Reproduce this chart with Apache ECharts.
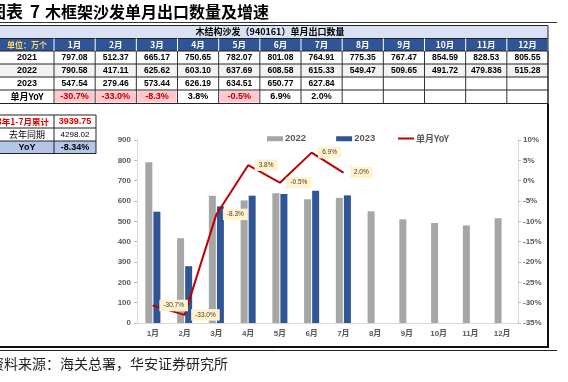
<!DOCTYPE html>
<html lang="zh">
<head>
<meta charset="utf-8">
<title>木框架沙发单月出口数量及增速</title>
</head>
<body style="margin: 0; background: #fff">
<div id="container" style="width: 568px; height: 382px"></div>
<script type="text/javascript" src="https://cdn.jsdelivr.net/npm/echarts@6/dist/echarts.min.js"></script>
<script type="text/javascript">
var months = ['1月', '2月', '3月', '4月', '5月', '6月', '7月', '8月', '9月', '10月', '11月', '12月'];
var v2021 = [797.08, 512.37, 665.17, 750.65, 782.07, 801.08, 764.91, 775.35, 767.47, 854.59, 828.53, 805.55];
var v2022 = [790.58, 417.11, 625.62, 603.10, 637.69, 608.58, 615.33, 549.47, 509.65, 491.72, 479.836, 515.28];
var v2023 = [547.54, 279.46, 573.44, 626.19, 634.51, 650.77, 627.84];
var yoy = [-30.7, -33.0, -8.3, 3.8, -0.5, 6.9, 2.0];
var ytdLabels = ['2023年1-7月累计', '去年同期', 'YoY'];
var ytdValues = ['3939.75', '4298.02', '-8.34%'];

var CN = '"Noto Sans CJK SC", "Liberation Sans", sans-serif';
var NUM = '"Liberation Sans", "Noto Sans CJK SC", sans-serif';

// ---- table drawn with graphic elements ----
var g = [];
var col0 = 54, colW = (548 - 54) / 12;
var rows = [25.5, 38.5, 51, 64, 77, 90, 103.5];

function rect(x, y, w, h, fill) {
    g.push({type: 'rect', shape: {x: x, y: y, width: w, height: h}, style: {fill: fill}, silent: true});
}
function line(x1, y1, x2, y2, color, w) {
    g.push({type: 'line', shape: {x1: x1, y1: y1, x2: x2, y2: y2}, style: {stroke: color, lineWidth: w || 1}, silent: true});
}
function text(str, x, y, opt) {
    opt = opt || {};
    g.push({type: 'text', x: x, y: y, silent: true, style: {
        text: str, fill: opt.color || '#000', font: (opt.weight || 'bold') + ' ' + (opt.size || 8.5) + 'px ' + (opt.family || NUM),
        align: opt.align || 'center', verticalAlign: 'middle'
    }});
}
function colX(i) { return col0 + i * colW; }
// keep at least two decimals, as in the source table
function fmt(v) {
    var s = String(v);
    var d = s.indexOf('.') < 0 ? 0 : s.split('.')[1].length;
    return d < 2 ? v.toFixed(2) : s;
}

// title
text('图表', -11, 12, {size: 17, align: 'left', family: CN});
text('7', 30, 12, {size: 17, align: 'left', family: CN});
text('木框架沙发单月出口数量及增速', 45, 12, {size: 16, align: 'left', family: CN});
line(0, 22.5, 557, 22.5, '#333', 1);

// header rows
rect(0, rows[0], 548, rows[1] - rows[0], '#d9e1f2');
text('木结构沙发（940161）单月出口数量', 270, (rows[0] + rows[1]) / 2, {family: CN, size: 9});
rect(0, rows[1], 548, rows[2] - rows[1], '#2f5597');
text('单位：万个', col0 / 2, (rows[1] + rows[2]) / 2, {family: CN, color: '#ffd966', size: 8});
months.forEach(function (m, i) {
    text(m, colX(i) + colW / 2, (rows[1] + rows[2]) / 2, {family: CN, color: '#fff'});
});
rect(0, rows[3], 548, rows[4] - rows[3], '#f2f2f2');

var bodyRows = [['2021', v2021], ['2022', v2022], ['2023', v2023]];
bodyRows.forEach(function (r, k) {
    var cy = (rows[k + 2] + rows[k + 3]) / 2;
    text(r[0], col0 / 2, cy, {size: 9});
    r[1].forEach(function (v, i) {
        text(fmt(v), colX(i) + colW / 2, cy);
    });
});
var yy = (rows[5] + rows[6]) / 2;
text('单月YoY', col0 / 2, yy, {family: CN, size: 9});
yoy.forEach(function (v, i) {
    var neg = v < 0;
    if (neg) rect(colX(i) + 1, rows[5] + 1, colW - 2, rows[6] - rows[5] - 2, '#ffc7ce');
    text(v.toFixed(1) + '%', colX(i) + colW / 2, yy, {color: neg ? '#c00000' : '#000', size: 9});
});
// grid lines
for (var r = 0; r < rows.length; r++) line(0, rows[r], 548, rows[r], '#222', 1);
for (var c = 0; c <= 12; c++) {
    line(colX(c), rows[1], colX(c), rows[2], '#fff', 1);
    line(colX(c), rows[2], colX(c), rows[6], '#333', 1);
}
line(548, rows[0], 548, rows[6], '#222', 1);

// small ytd table
var sr = [115, 128, 141, 153.5];
rect(0, sr[2], 96, sr[3] - sr[2], '#b4c6e7');
ytdLabels.forEach(function (l, i) {
    var cy = (sr[i] + sr[i + 1]) / 2;
    if (i === 0) {
        text(l, 49, cy, {family: CN, color: '#e00000', align: 'right', size: 8.5});
        text(ytdValues[i], 75, cy, {color: '#e00000', size: 9});
    } else if (i === 1) {
        text(l, 27, cy, {family: CN, weight: 'normal', size: 9});
        text(ytdValues[i], 75, cy, {weight: 'normal', size: 8});
    } else {
        text(l, 27, cy, {size: 9});
        text(ytdValues[i], 75, cy, {size: 9});
    }
});
sr.forEach(function (y) { line(0, y, 96, y, '#222', 1); });
line(54, sr[0], 54, sr[3], '#222', 1);
line(96, sr[0], 96, sr[3], '#222', 1);

// chart frame and footer
line(548, rows[6], 548, 347, '#111', 2);
line(0, 347, 549, 347, '#111', 2);
line(0, 350.5, 557, 350.5, '#222', 1);
text('资料来源：海关总署，华安证券研究所', -10, 364, {family: CN, weight: 'normal', size: 14, align: 'left', color: '#222'});

var dom = document.getElementById('container');
var myChart = echarts.init(dom);

var axisLabel = {color: '#595959', fontSize: 8, fontWeight: 'bold', fontFamily: NUM};

var option = {
    animation: false,
    textStyle: {fontFamily: NUM},
    grid: {left: 137, right: 50, top: 140, bottom: 59},
    legend: [
        {data: ['2022', '2023'], left: 262, top: 129, itemWidth: 16, itemHeight: 5, itemGap: 30, icon: 'rect',
            textStyle: {color: '#595959', fontSize: 9.5, fontWeight: 'bold', padding: [0, 0, 0, -3]}},
        {data: ['单月YoY'], left: 393, top: 129, itemWidth: 16, itemHeight: 2, icon: 'rect',
            textStyle: {color: '#595959', fontSize: 9, fontWeight: 'bold', fontFamily: CN, padding: [0, 0, 0, -3]}}
    ],
    xAxis: {
        type: 'category',
        data: months,
        axisLine: {lineStyle: {color: '#d9d9d9'}},
        axisTick: {show: false},
        axisLabel: Object.assign({margin: 7, fontFamily: CN}, axisLabel)
    },
    yAxis: [
        {type: 'value', min: 0, max: 900, interval: 100, splitLine: {show: false},
            axisLine: {show: true, lineStyle: {color: '#d9d9d9'}},
            axisTick: {show: true, length: 3, lineStyle: {color: '#bfbfbf'}},
            axisLabel: Object.assign({margin: 6}, axisLabel)},
        {type: 'value', min: -35, max: 10, interval: 5, splitLine: {show: false},
            axisLine: {show: true, lineStyle: {color: '#d9d9d9'}},
            axisTick: {show: true, length: 3, lineStyle: {color: '#bfbfbf'}},
            axisLabel: Object.assign({margin: 5, formatter: '{value}%'}, axisLabel)}
    ],
    series: [
        {name: '2022', type: 'bar', data: v2022, barWidth: 7, barGap: '15%', itemStyle: {color: '#a6a6a6'}},
        {name: '2023', type: 'bar', data: v2023, barWidth: 7, itemStyle: {color: '#2f5597'}},
        {name: '单月YoY', type: 'line', yAxisIndex: 1, data: yoy, symbol: 'circle', symbolSize: 1,
            lineStyle: {color: '#c00000', width: 2}, itemStyle: {color: '#c00000'},
            label: {show: true, position: 'right', distance: 6,
                formatter: function (p) { return p.value.toFixed(1) + '%'; },
                backgroundColor: '#fff2cc', padding: [3, 4, 2, 4], fontSize: 6.5, color: '#404040'}}
    ],
    graphic: g
};

myChart.setOption(option);
window.addEventListener('resize', myChart.resize);
</script>
</body>
</html>
